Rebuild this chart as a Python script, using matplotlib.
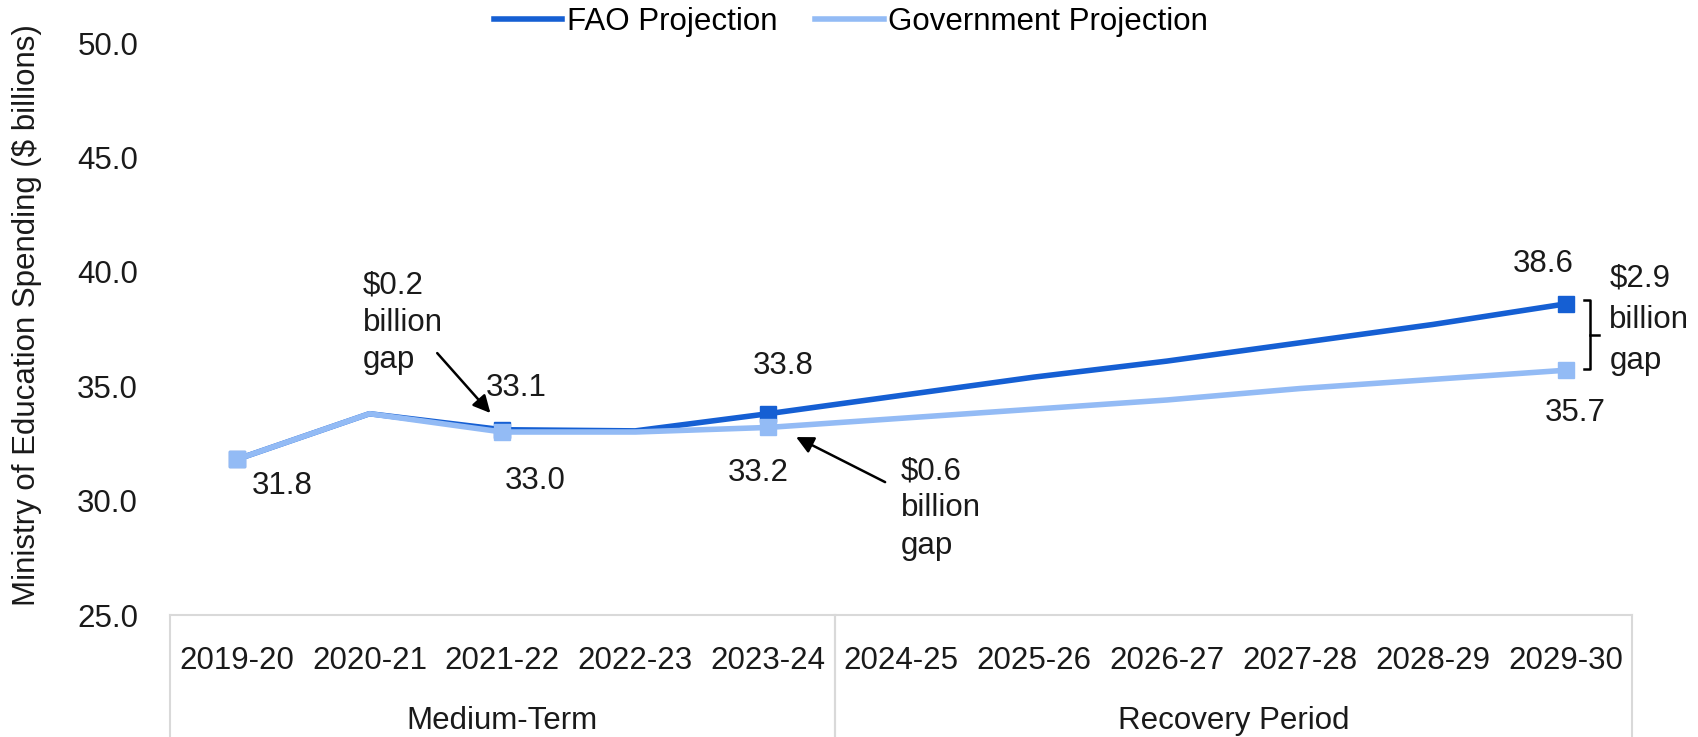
import numpy as np
import matplotlib.pyplot as plt
import matplotlib.transforms as mtransforms

plt.rcParams['font.family'] = ['Liberation Sans', 'DejaVu Sans']

years = ['2019-20', '2020-21', '2021-22', '2022-23', '2023-24', '2024-25',
         '2025-26', '2026-27', '2027-28', '2028-29', '2029-30']
fao = [31.8, 33.8, 33.1, 33.05, 33.8, 34.6, 35.4, 36.1, 36.9, 37.7, 38.6]
gov = [31.8, 33.8, 33.0, 33.0, 33.2, 33.6, 34.0, 34.4, 34.9, 35.3, 35.7]
marker_idx = [0, 2, 4, 10]
groups = ['Medium-Term', 'Recovery Period']
group_bounds = [(-0.5, 4.5), (4.5, 10.5)]

fao_col = '#155fd3'
gov_col = '#93bbf5'
fs = 22.5

fig = plt.figure(figsize=(16.99, 7.37), dpi=100)
ax = fig.add_axes([0.1001, 0.1655, 0.8605, 0.776])
x = np.arange(len(years))

ax.plot(x, fao, color=fao_col, lw=4, label='FAO Projection', zorder=3)
ax.plot(x[marker_idx], np.array(fao)[marker_idx], 's', color=fao_col, ms=11, zorder=3)
ax.plot(x, gov, color=gov_col, lw=4, label='Government Projection', zorder=4)
ax.plot(x[marker_idx], np.array(gov)[marker_idx], 's', color=gov_col, ms=11, zorder=4)

ax.set_xlim(-0.5, 10.5)
ax.set_ylim(25, 50)
yt = np.arange(25, 50.1, 5)
ax.set_yticks(yt)
ax.set_yticklabels([f'{v:.1f}' for v in yt])
ax.set_xticks(x)
ax.set_xticklabels(years)
ax.tick_params(axis='both', length=0, labelsize=fs, colors='#1a1a1a')
ax.tick_params(axis='x', pad=22)
ax.tick_params(axis='y', pad=23)
for s in ['top', 'right', 'left']:
    ax.spines[s].set_visible(False)
ax.spines['bottom'].set_color('#d9d9d9')
ax.spines['bottom'].set_linewidth(1.5)
ax.set_ylabel('Ministry of Education Spending ($ billions)', fontsize=fs, color='#1a1a1a')
ax.yaxis.set_label_coords(-0.0875, 0.524)

# group separators and labels below the axis
trans = mtransforms.blended_transform_factory(ax.transData, ax.transAxes)
for (a, b), g in zip(group_bounds, groups):
    for xv in (a, b):
        ax.plot([xv, xv], [0, -0.22], transform=trans, color='#d9d9d9', lw=1.5, clip_on=False)
    ax.text((a + b) / 2, -0.185, g, transform=trans, ha='center', va='center',
            fontsize=fs, color='#1a1a1a')

# value labels (offsets in points)
labels_fao = {2: (10, 30), 4: (11, 34), 10: (-16, 29)}
labels_gov = {0: (33, -19), 2: (24, -35), 4: (-7, -33), 10: (7, -31)}
for i, (dx, dy) in labels_fao.items():
    ax.annotate(f'{fao[i]:.1f}', (x[i], fao[i]), xytext=(dx, dy), textcoords='offset points',
                ha='center', va='center', fontsize=fs, color='#1a1a1a')
for i, (dx, dy) in labels_gov.items():
    ax.annotate(f'{gov[i]:.1f}', (x[i], gov[i]), xytext=(dx, dy), textcoords='offset points',
                ha='center', va='center', fontsize=fs, color='#1a1a1a')

# gap annotations
arrow = dict(arrowstyle='-|>', color='black', lw=1.8, mutation_scale=26, shrinkA=0, shrinkB=0)
ax.annotate('', xy=(1.91, 33.83), xytext=(1.51, 36.45), arrowprops=arrow)
ax.text(0.95, 40.05, '$0.2\nbillion\ngap', fontsize=fs, ha='left', va='top',
        linespacing=1.32, color='#1a1a1a')
ax.annotate('', xy=(4.21, 32.78), xytext=(4.88, 30.81), arrowprops=arrow)
ax.text(5.0, 31.95, '$0.6\nbillion\ngap', fontsize=fs, ha='left', va='top',
        linespacing=1.32, color='#1a1a1a')

# bracket for final gap
top, bot = 38.75, 35.75
ax.plot([10.14, 10.18, 10.18, 10.14], [top, top, bot, bot], color='black', lw=1.8, clip_on=False)
mid = (top + bot) / 2
ax.plot([10.18, 10.25], [mid, mid], color='black', lw=1.8, clip_on=False)
ax.text(10.33, 40.35, '$2.9\nbillion\ngap', fontsize=fs, ha='left', va='top',
        linespacing=1.48, color='#1a1a1a')

fig.legend(loc='center left', bbox_to_anchor=(0.2905, 0.970), ncol=2, frameon=False,
           fontsize=fs, handlelength=2.2, handletextpad=0.15, columnspacing=1.2,
           borderpad=0, borderaxespad=0)

fig.savefig('out.png', dpi=100)
